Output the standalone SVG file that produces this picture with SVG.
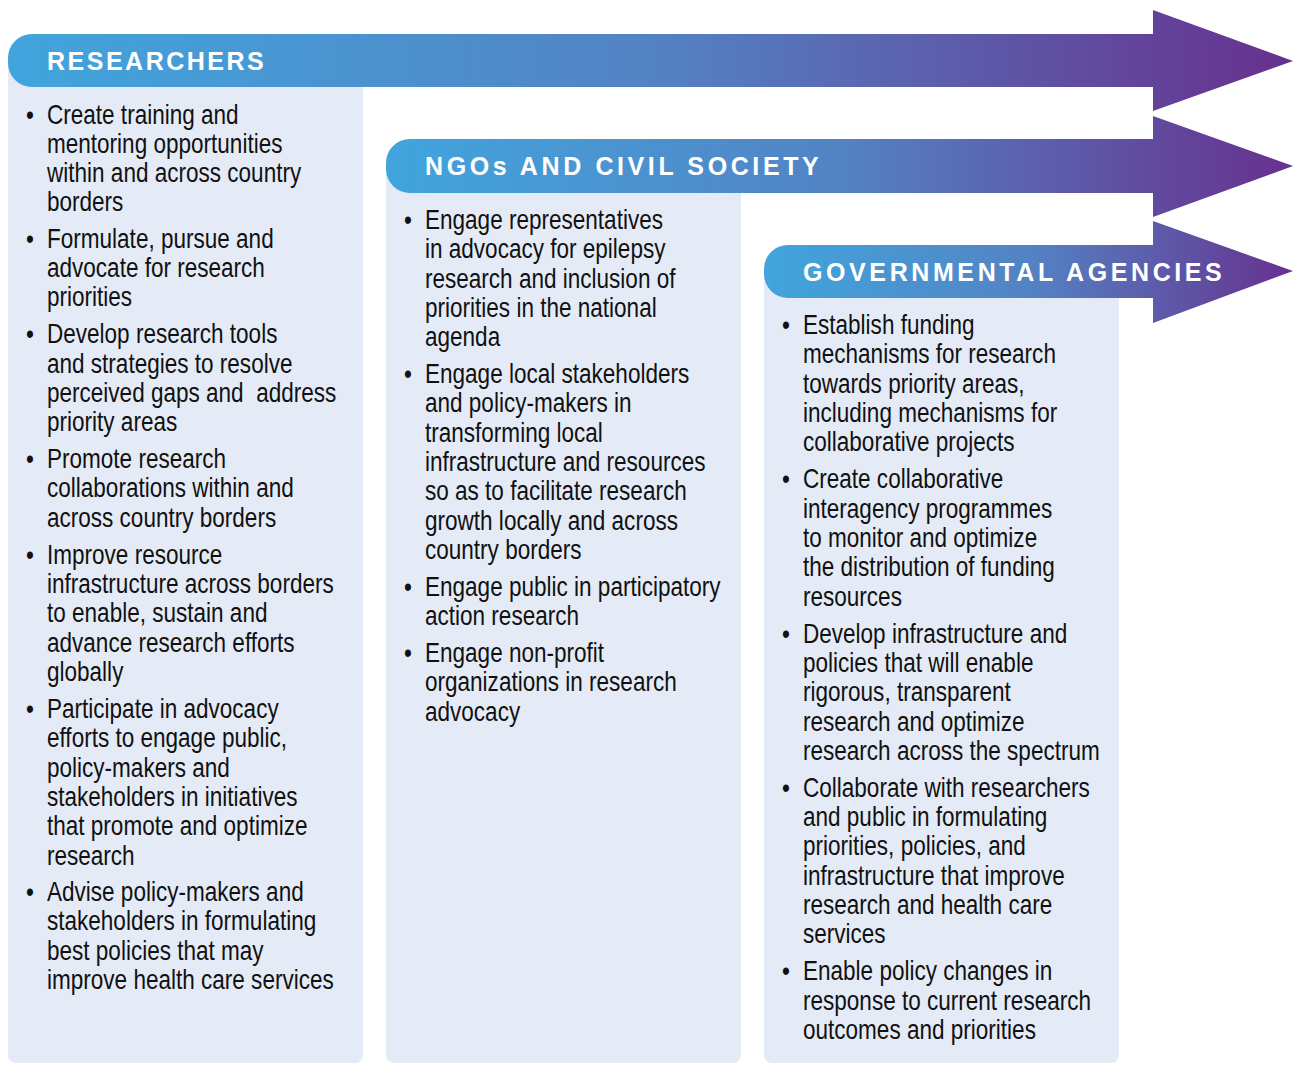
<svg xmlns="http://www.w3.org/2000/svg" width="1293" height="1065" viewBox="0 0 1293 1065">
<defs>
<linearGradient id="g" x1="0" y1="0" x2="1" y2="0">
<stop offset="0" stop-color="#41a5dd"/>
<stop offset="0.5" stop-color="#5383c4"/>
<stop offset="1" stop-color="#67318e"/>
</linearGradient>
<style>
.panel{fill:#e4ebf7}
.arrow{fill:url(#g)}
.hd{font-family:"Liberation Sans",Arial,sans-serif;font-weight:bold;font-size:25px;letter-spacing:3.6px;fill:#fff}
.bd{font-family:"Liberation Sans",Arial,sans-serif;font-size:27.5px;fill:#111}
</style>
</defs>
<rect width="1293" height="1065" fill="#fff"/>
<g id="panels">
<path class="panel" d="M8,60 H363 V1055 A8,8 0 0 1 355,1063 H16 A8,8 0 0 1 8,1055 Z"/>
<path class="panel" d="M386,166 H741 V1055 A8,8 0 0 1 733,1063 H394 A8,8 0 0 1 386,1055 Z"/>
<path class="panel" d="M764,271 H1119 V1055 A8,8 0 0 1 1111,1063 H772 A8,8 0 0 1 764,1055 Z"/>
</g>
<g id="connectors">
<path class="arrow" d="M32,34 H1153 V10 L1293,61 L1153,111 V87 H32 A24,24 0 0 1 8,63 V58 A24,24 0 0 1 32,34 Z"/>
<path class="arrow" d="M410,139 H1153 V116 L1293,166 L1153,217 V193 H410 A24,24 0 0 1 386,169 V163 A24,24 0 0 1 410,139 Z"/>
<path class="arrow" d="M788,245 H1153 V221 L1293,271 L1153,323 V298 H788 A24,24 0 0 1 764,274 V269 A24,24 0 0 1 788,245 Z"/>
</g>
<g id="researchers">
<text class="hd" x="47" y="70" style="letter-spacing:2.5px">RESEARCHERS</text>
<text class="bd" transform="matrix(0.82 0 0 1 8.46 0)">
<tspan x="21.4" y="124">•</tspan><tspan x="47" y="124">Create training and</tspan>
<tspan x="47" y="153">mentoring opportunities</tspan>
<tspan x="47" y="182">within and across country</tspan>
<tspan x="47" y="211">borders</tspan>
<tspan x="21.4" y="248">•</tspan><tspan x="47" y="248">Formulate, pursue and</tspan>
<tspan x="47" y="277">advocate for research</tspan>
<tspan x="47" y="306">priorities</tspan>
<tspan x="21.4" y="343">•</tspan><tspan x="47" y="343">Develop research tools</tspan>
<tspan x="47" y="373">and strategies to resolve</tspan>
<tspan x="47" y="402">perceived gaps and&#160; address</tspan>
<tspan x="47" y="431">priority areas</tspan>
<tspan x="21.4" y="468">•</tspan><tspan x="47" y="468">Promote research</tspan>
<tspan x="47" y="497">collaborations within and</tspan>
<tspan x="47" y="527">across country borders</tspan>
<tspan x="21.4" y="564">•</tspan><tspan x="47" y="564">Improve resource</tspan>
<tspan x="47" y="593">infrastructure across borders</tspan>
<tspan x="47" y="622">to enable, sustain and</tspan>
<tspan x="47" y="652">advance research efforts</tspan>
<tspan x="47" y="681">globally</tspan>
<tspan x="21.4" y="718">•</tspan><tspan x="47" y="718">Participate in advocacy</tspan>
<tspan x="47" y="747">efforts to engage public,</tspan>
<tspan x="47" y="777">policy-makers and</tspan>
<tspan x="47" y="806">stakeholders in initiatives</tspan>
<tspan x="47" y="835">that promote and optimize</tspan>
<tspan x="47" y="865">research</tspan>
<tspan x="21.4" y="901">•</tspan><tspan x="47" y="901">Advise policy-makers and</tspan>
<tspan x="47" y="930">stakeholders in formulating</tspan>
<tspan x="47" y="960">best policies that may</tspan>
<tspan x="47" y="989">improve health care services</tspan>
</text>
</g>
<g id="ngos">
<text class="hd" x="425" y="175">NGOs AND CIVIL SOCIETY</text>
<text class="bd" transform="matrix(0.82 0 0 1 76.5 0)">
<tspan x="399.4" y="229">•</tspan><tspan x="425" y="229">Engage representatives</tspan>
<tspan x="425" y="258">in advocacy for epilepsy</tspan>
<tspan x="425" y="288">research and inclusion of</tspan>
<tspan x="425" y="317">priorities in the national</tspan>
<tspan x="425" y="346">agenda</tspan>
<tspan x="399.4" y="383">•</tspan><tspan x="425" y="383">Engage local stakeholders</tspan>
<tspan x="425" y="412">and policy-makers in</tspan>
<tspan x="425" y="442">transforming local</tspan>
<tspan x="425" y="471">infrastructure and resources</tspan>
<tspan x="425" y="500">so as to facilitate research</tspan>
<tspan x="425" y="530">growth locally and across</tspan>
<tspan x="425" y="559">country borders</tspan>
<tspan x="399.4" y="596">•</tspan><tspan x="425" y="596">Engage public in participatory</tspan>
<tspan x="425" y="625">action research</tspan>
<tspan x="399.4" y="662">•</tspan><tspan x="425" y="662">Engage non-profit</tspan>
<tspan x="425" y="691">organizations in research</tspan>
<tspan x="425" y="721">advocacy</tspan>
</text>
</g>
<g id="governmental">
<text class="hd" x="803" y="281">GOVERNMENTAL AGENCIES</text>
<text class="bd" transform="matrix(0.82 0 0 1 144.54 0)">
<tspan x="777.4" y="334">•</tspan><tspan x="803" y="334">Establish funding</tspan>
<tspan x="803" y="363">mechanisms for research</tspan>
<tspan x="803" y="393">towards priority areas,</tspan>
<tspan x="803" y="422">including mechanisms for</tspan>
<tspan x="803" y="451">collaborative projects</tspan>
<tspan x="777.4" y="488">•</tspan><tspan x="803" y="488">Create collaborative</tspan>
<tspan x="803" y="518">interagency programmes</tspan>
<tspan x="803" y="547">to monitor and optimize</tspan>
<tspan x="803" y="576">the distribution of funding</tspan>
<tspan x="803" y="606">resources</tspan>
<tspan x="777.4" y="643">•</tspan><tspan x="803" y="643">Develop infrastructure and</tspan>
<tspan x="803" y="672">policies that will enable</tspan>
<tspan x="803" y="701">rigorous, transparent</tspan>
<tspan x="803" y="731">research and optimize</tspan>
<tspan x="803" y="760">research across the spectrum</tspan>
<tspan x="777.4" y="797">•</tspan><tspan x="803" y="797">Collaborate with researchers</tspan>
<tspan x="803" y="826">and public in formulating</tspan>
<tspan x="803" y="855">priorities, policies, and</tspan>
<tspan x="803" y="885">infrastructure that improve</tspan>
<tspan x="803" y="914">research and health care</tspan>
<tspan x="803" y="943">services</tspan>
<tspan x="777.4" y="980">•</tspan><tspan x="803" y="980">Enable policy changes in</tspan>
<tspan x="803" y="1010">response to current research</tspan>
<tspan x="803" y="1039">outcomes and priorities</tspan>
</text>
</g>
</svg>
